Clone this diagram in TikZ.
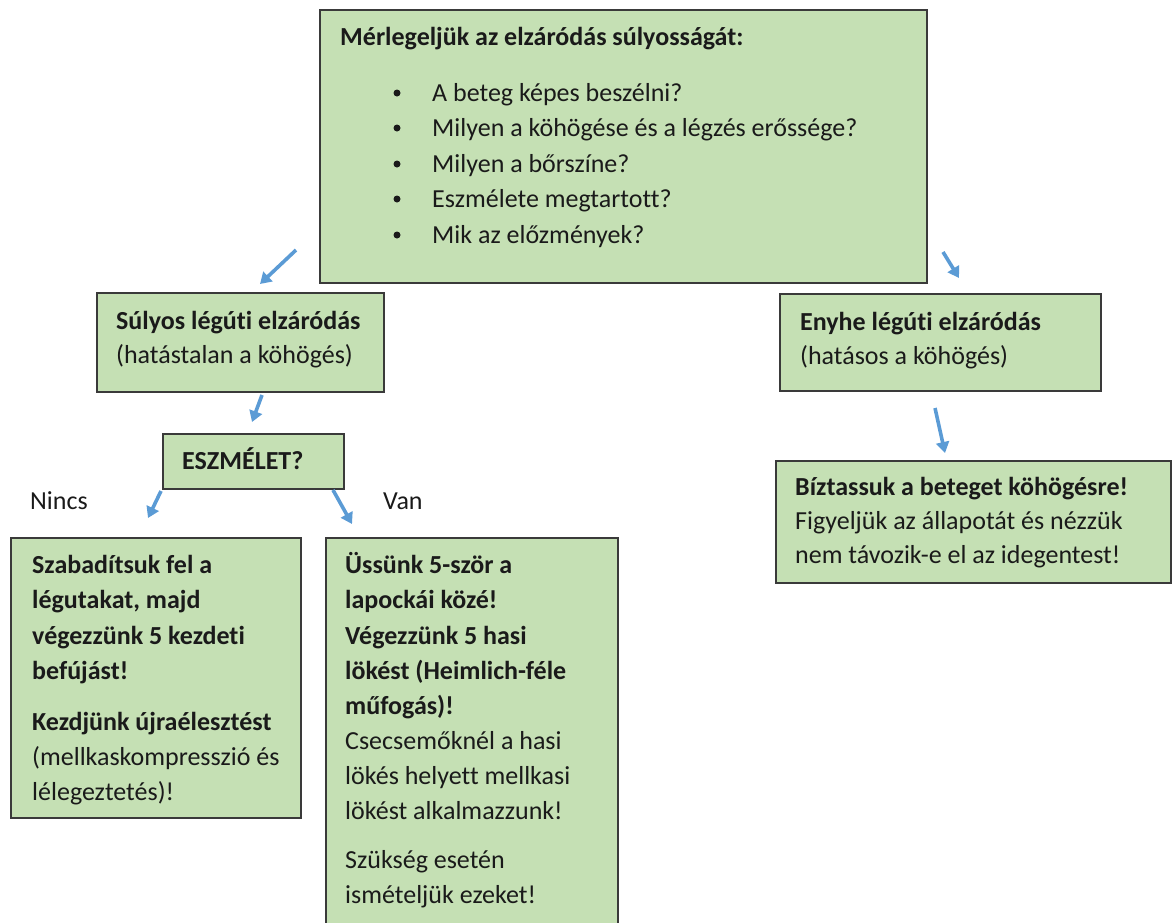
\documentclass[tikz,border=0pt]{standalone}
\usepackage{fontspec}
\setmainfont{Carlito}[Ligatures={NoCommon}]
\usetikzlibrary{arrows.meta}
\definecolor{boxfill}{HTML}{C5E0B4}
\definecolor{boxline}{HTML}{3A3A3A}
\definecolor{arrowblue}{HTML}{5B9BD5}
\definecolor{txtcol}{HTML}{1A1A1A}
\tikzset{
  greenbox/.style={draw=boxline, fill=boxfill, line width=1.6pt, anchor=north west, inner sep=0pt},
  ln/.style={anchor=base west, inner sep=0pt, text=txtcol, font=\fontsize{26}{35}\selectfont},
  bln/.style={ln, font=\fontsize{26}{35}\selectfont\bfseries},
  bul/.style={circle, fill=txtcol, inner sep=0pt, minimum size=7pt},
  flow/.style={draw=arrowblue, line width=3.6pt, -{Triangle[length=11pt,width=13pt]}}
}
\begin{document}
\begin{tikzpicture}[x=1pt,y=-1pt]
\useasboundingbox (0,0) rectangle (1172,922);
% boxes
\node[greenbox, minimum width=607pt, minimum height=273pt] (top) at (319,9) {};
\node[greenbox, minimum width=287pt, minimum height=99pt] (sulyos) at (96,292) {};
\node[greenbox, minimum width=321pt, minimum height=97pt] (enyhe) at (779,293) {};
\node[greenbox, minimum width=181pt, minimum height=55pt] (eszm) at (162,433) {};
\node[greenbox, minimum width=290pt, minimum height=280pt] (szabad) at (10,537) {};
\node[greenbox, minimum width=292pt, minimum height=390pt] (ussunk) at (325,537) {};
\node[greenbox, minimum width=395pt, minimum height=122pt] (biztat) at (775,460) {};
% top box text
\node[bln] (t0) at (340,45) {Mérlegeljük az elzáródás súlyosságát:};
\foreach \i/\yy/\t in {1/101/{A beteg képes beszélni?},2/136/{Milyen a köhögése és a légzés erőssége?},3/172/{Milyen a bőrszíne?},4/207/{Eszmélete megtartott?},5/243/{Mik az előzmények?}}{
  \node[bul] (b\i) at (397,\yy-8) {};
  \node[ln] (t\i) at (432,\yy) {\t};
}
% sulyos
\node[bln] (s1) at (116,329) {Súlyos légúti elzáródás};
\node[ln] (s2) at (116,363) {(hatástalan a köhögés)};
% enyhe
\node[bln] (e1) at (800,330) {Enyhe légúti elzáródás};
\node[ln] (e2) at (800,364) {(hatásos a köhögés)};
% eszmelet
\node[bln] (z1) at (182,469) {ESZMÉLET?};
% labels
\node[ln] (nincs) at (30,509) {Nincs};
\node[ln] (van) at (383,509) {Van};
% szabaditsuk
\node[bln] (a1) at (32,573) {Szabadítsuk fel a};
\node[bln] (a2) at (32,608) {légutakat, majd};
\node[bln] (a3) at (32,644) {végezzünk 5 kezdeti};
\node[bln] (a4) at (32,679) {befújást!};
\node[bln] (a5) at (32,730) {Kezdjünk újraélesztést};
\node[ln] (a6) at (32,765) {(mellkaskompresszió és};
\node[ln] (a7) at (32,800) {lélegeztetés)!};
% ussunk
\node[bln] (u1) at (345,573) {Üssünk 5-ször a};
\node[bln] (u2) at (345,608) {lapockái közé!};
\node[bln] (u3) at (345,644) {Végezzünk 5 hasi};
\node[bln] (u4) at (345,679) {lökést (Heimlich-féle};
\node[bln] (u5) at (345,714) {műfogás)!};
\node[ln] (u6) at (345,749) {Csecsemőknél a hasi};
\node[ln] (u7) at (345,784) {lökés helyett mellkasi};
\node[ln] (u8) at (345,819) {lökést alkalmazzunk!};
\node[ln] (u9) at (345,868) {Szükség esetén};
\node[ln] (u10) at (345,903) {ismételjük ezeket!};
% biztat
\node[bln] (c1) at (795,495) {Bíztassuk a beteget köhögésre!};
\node[ln] (c2) at (795,529) {Figyeljük az állapotát és nézzük};
\node[ln] (c3) at (795,563) {nem távozik-e el az idegentest!};
% arrow end points
\coordinate (p1s) at (296,250); \coordinate (p1e) at (260,284);
\coordinate (p2s) at (943,252); \coordinate (p2e) at (959,278);
\coordinate (p3s) at (262,395); \coordinate (p3e) at (252,422);
\coordinate (p4s) at (935,408); \coordinate (p4e) at (945,453);
\coordinate (p5s) at (161,491); \coordinate (p5e) at (148,518);
\coordinate (p6s) at (333,490); \coordinate (p6e) at (352,524);
\draw[flow] (p1s) -- (p1e);
\draw[flow] (p2s) -- (p2e);
\draw[flow] (p3s) -- (p3e);
\draw[flow] (p4s) -- (p4e);
\draw[flow] (p5s) -- (p5e);
\draw[flow] (p6s) -- (p6e);
\end{tikzpicture}
\end{document}
